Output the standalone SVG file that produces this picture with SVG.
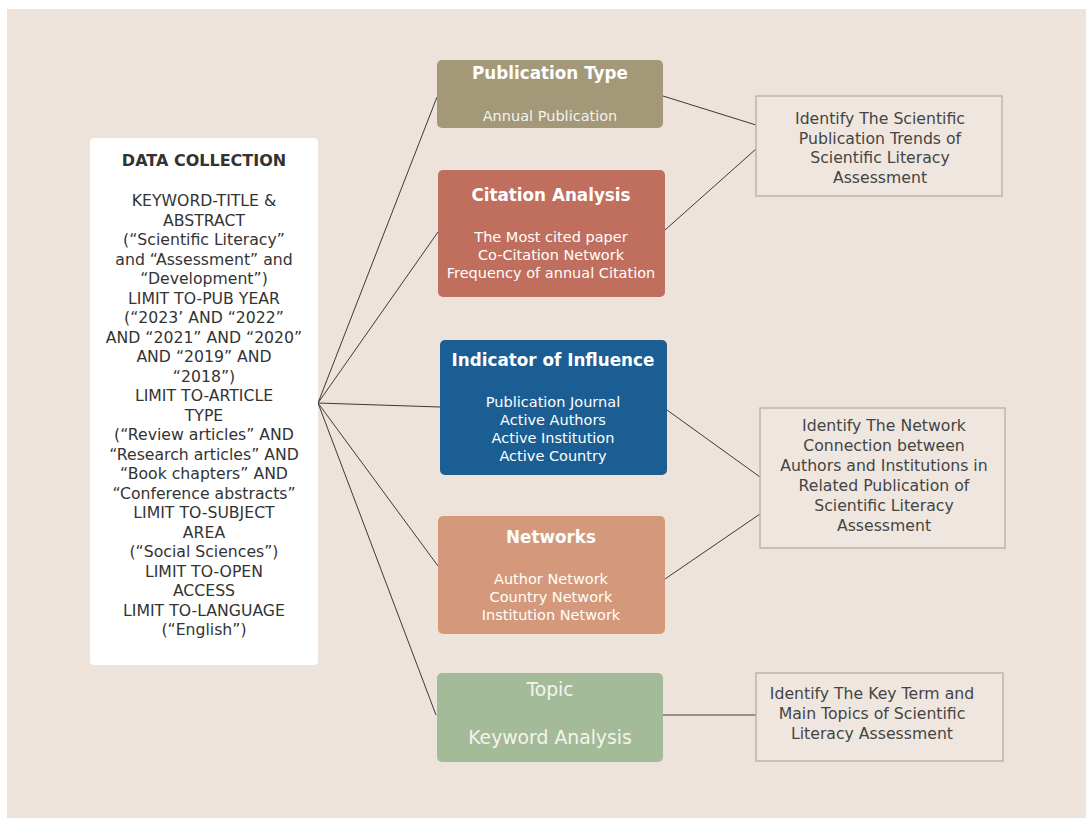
<svg xmlns="http://www.w3.org/2000/svg" width="1086" height="818" viewBox="0 0 1086 818">
<style>
text{font-family:"DejaVu Sans","Liberation Sans",Arial,sans-serif;text-anchor:middle}
.dc{font-size:15.7px;fill:#333}
.dct{font-size:16px;font-weight:bold;fill:#333}
.ht{font-size:16.8px;font-weight:bold;fill:#fff}
.st{font-size:14.5px;fill:#fff}
.rt{font-size:15.7px;fill:#444}
.tp{font-size:18.8px;fill:#f4f4ec}
.rb{fill:#efe7df;stroke:#bdb5ad;stroke-width:1.5}
.cn{stroke:#3a3a3a;stroke-width:1;fill:none}
</style>
<rect x="0" y="0" width="1086" height="818" fill="#ffffff"/>
<rect x="7" y="9" width="1079" height="809" fill="#ede3da"/>
<g id="connectors">
<line class="cn" x1="318" y1="403" x2="437" y2="97"/>
<line class="cn" x1="318" y1="403" x2="438" y2="232"/>
<line class="cn" x1="318" y1="403" x2="440" y2="407"/>
<line class="cn" x1="318" y1="403" x2="438" y2="566"/>
<line class="cn" x1="318" y1="403" x2="436" y2="715"/>
<line class="cn" x1="663" y1="96" x2="756" y2="125"/>
<line class="cn" x1="665" y1="230" x2="756" y2="149"/>
<line class="cn" x1="667" y1="410" x2="760" y2="477"/>
<line class="cn" x1="665" y1="579" x2="760" y2="514"/>
<line class="cn" x1="663" y1="715" x2="756" y2="715"/>
</g>
<g id="data-collection">
<rect x="90" y="138" width="228" height="527" rx="4" fill="#ffffff"/>
<text class="dct" x="204" y="166">DATA COLLECTION</text>
<text class="dc" x="204" y="206">KEYWORD-TITLE &amp;</text>
<text class="dc" x="204" y="225.5">ABSTRACT</text>
<text class="dc" x="204" y="245">(“Scientific Literacy”</text>
<text class="dc" x="204" y="264.5">and “Assessment” and</text>
<text class="dc" x="204" y="284">“Development”)</text>
<text class="dc" x="204" y="303.5">LIMIT TO-PUB YEAR</text>
<text class="dc" x="204" y="323">(“2023’ AND “2022”</text>
<text class="dc" x="204" y="342.5">AND “2021” AND “2020”</text>
<text class="dc" x="204" y="362">AND “2019” AND</text>
<text class="dc" x="204" y="381.5">“2018”)</text>
<text class="dc" x="204" y="401">LIMIT TO-ARTICLE</text>
<text class="dc" x="204" y="420.5">TYPE</text>
<text class="dc" x="204" y="440">(“Review articles” AND</text>
<text class="dc" x="204" y="459.5">“Research articles” AND</text>
<text class="dc" x="204" y="479">“Book chapters” AND</text>
<text class="dc" x="204" y="498.5">“Conference abstracts”</text>
<text class="dc" x="204" y="518">LIMIT TO-SUBJECT</text>
<text class="dc" x="204" y="537.5">AREA</text>
<text class="dc" x="204" y="557">(“Social Sciences”)</text>
<text class="dc" x="204" y="576.5">LIMIT TO-OPEN</text>
<text class="dc" x="204" y="596">ACCESS</text>
<text class="dc" x="204" y="615.5">LIMIT TO-LANGUAGE</text>
<text class="dc" x="204" y="635">(“English”)</text>
</g>
<g id="publication-type">
<rect x="437" y="60" width="226" height="68" rx="5" fill="#a39878"/>
<text class="ht" x="550" y="79">Publication Type</text>
<text class="st" x="550" y="121" fill-opacity="0.9">Annual Publication</text>
</g>
<g id="citation-analysis">
<rect x="438" y="170" width="227" height="127" rx="5" fill="#c06e5d"/>
<text class="ht" x="551" y="201">Citation Analysis</text>
<text class="st" x="551" y="242">The Most cited paper</text>
<text class="st" x="551" y="260">Co-Citation Network</text>
<text class="st" x="551" y="278">Frequency of annual Citation</text>
</g>
<g id="indicator-of-influence">
<rect x="440" y="340" width="227" height="135" rx="5" fill="#1a5e93"/>
<text class="ht" x="553" y="366">Indicator of Influence</text>
<text class="st" x="553" y="407">Publication Journal</text>
<text class="st" x="553" y="425">Active Authors</text>
<text class="st" x="553" y="443">Active Institution</text>
<text class="st" x="553" y="461">Active Country</text>
</g>
<g id="networks">
<rect x="438" y="516" width="227" height="118" rx="5" fill="#d4997b"/>
<text class="ht" x="551" y="543">Networks</text>
<text class="st" x="551" y="584">Author Network</text>
<text class="st" x="551" y="602">Country Network</text>
<text class="st" x="551" y="620">Institution Network</text>
</g>
<g id="topic">
<rect x="437" y="673" width="226" height="89" rx="5" fill="#a3bb98"/>
<text class="tp" x="550" y="696">Topic</text>
<text class="tp" x="550" y="744">Keyword Analysis</text>
</g>
<g id="objective-1">
<rect class="rb" x="756" y="96" width="246" height="100"/>
<text class="rt" x="880" y="124">Identify The Scientific</text>
<text class="rt" x="880" y="143.5">Publication Trends of</text>
<text class="rt" x="880" y="163">Scientific Literacy</text>
<text class="rt" x="880" y="182.5">Assessment</text>
</g>
<g id="objective-2">
<rect class="rb" x="760" y="408" width="245" height="140"/>
<text class="rt" x="884" y="431">Identify The Network</text>
<text class="rt" x="884" y="451">Connection between</text>
<text class="rt" x="884" y="471">Authors and Institutions in</text>
<text class="rt" x="884" y="491">Related Publication of</text>
<text class="rt" x="884" y="511">Scientific Literacy</text>
<text class="rt" x="884" y="531">Assessment</text>
</g>
<g id="objective-3">
<rect class="rb" x="756" y="673" width="247" height="88"/>
<text class="rt" x="872" y="699">Identify The Key Term and</text>
<text class="rt" x="872" y="719">Main Topics of Scientific</text>
<text class="rt" x="872" y="739">Literacy Assessment</text>
</g>
</svg>
